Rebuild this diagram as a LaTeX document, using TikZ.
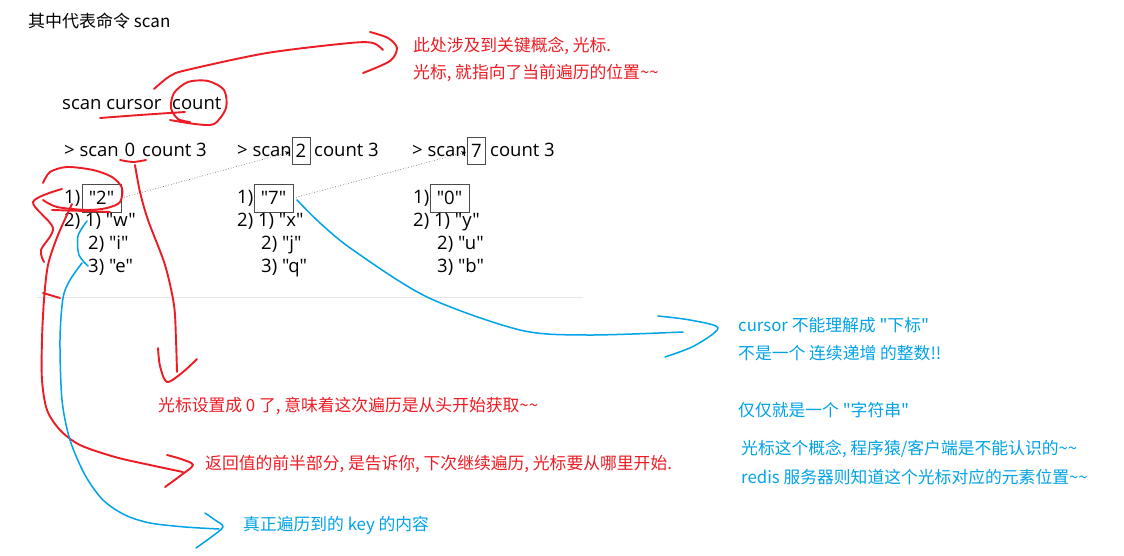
\documentclass[tikz,border=0pt]{standalone}
\usepackage{fontspec}
\setmainfont{Open Sans}
\newfontfamily\cjk{Noto Sans CJK SC}
\newfontfamily\term{Open Sans}
\usetikzlibrary{arrows.meta}
\definecolor{pred}{RGB}{237,28,36}
\definecolor{pblue}{RGB}{0,162,232}
\tikzset{
  term/.style={font=\term\fontsize{18.5}{22}\selectfont, inner sep=0pt, anchor=base west, text=black},
  keybox/.style={draw=black!70, line width=0.9pt, inner sep=0pt, minimum width=18pt, minimum height=27pt, font=\term\fontsize{18.5}{22}\selectfont},
  valbox/.style={keybox, minimum width=39pt, minimum height=28pt},
  note/.style={font=\cjk\fontsize{16.8}{19}\selectfont, inner sep=0pt, anchor=west},
  rednote/.style={note, text=pred},
  bluenote/.style={note, text=pblue},
  redpen/.style={draw=pred, line width=1.9pt, line cap=round, line join=round},
  bluepen/.style={draw=pblue, line width=1.5pt, line cap=round, line join=round},
  hint/.style={draw=black!55, dotted, line width=0.7pt, -{Stealth[length=5pt,width=4pt,black]}},
}
\begin{document}
\begin{tikzpicture}[x=1pt,y=-1pt]
\useasboundingbox[fill=white] (0,0) rectangle (1124,556);

% title
\node[note, text=black, font=\cjk\fontsize{17}{19}\selectfont] (title) at (28,21) {其中代表命令 scan};

% command syntax
\node[term] (cmdA) at (62,109.5) {scan cursor};
\node[term] (cmdB) at (172,109.5) {count};

% scan commands
\node[term] (s1a) at (64,156.5) {> scan};
\node[term, anchor=base] (s1z) at (130,156.5) {0};
\node[term] (s1b) at (142,156.5) {count 3};
\node[term] (s2a) at (237,156.5) {> scan};
\node[keybox] (s2k) at (301,150.5) {2};
\node[term] (s2b) at (314,156.5) {count 3};
\node[term] (s3a) at (412,156.5) {> scan};
\node[keybox] (s3k) at (476.5,150.5) {7};
\node[term] (s3b) at (490,156.5) {count 3};

% results column 1
\node[term] (p1) at (64,203.5) {1)};
\node[valbox] (p1k) at (101.5,198) {"2"};
\node[term] (p2) at (64,226.5) {2) 1) "w"};
\node[term] (p3) at (88,249.5) {2) "i"};
\node[term] (p4) at (88,272.5) {3) "e"};
% results column 2
\node[term] (q1) at (237,203.5) {1)};
\node[valbox] (q1k) at (273.5,198) {"7"};
\node[term] (q2) at (237,226.5) {2) 1) "x"};
\node[term] (q3) at (261,249.5) {2) "j"};
\node[term] (q4) at (261,272.5) {3) "q"};
% results column 3
\node[term] (u1) at (413,203.5) {1)};
\node[valbox] (u1k) at (449.5,198) {"0"};
\node[term] (u2) at (413,226.5) {2) 1) "y"};
\node[term] (u3) at (437,249.5) {2) "u"};
\node[term] (u4) at (437,272.5) {3) "b"};

\draw[black!10, line width=0.8pt] (37,297) -- (583,297);

% dotted hints
\coordinate (d1) at (290,152);
\coordinate (d2) at (466,152);
\draw[hint] (p1k.east) -- (d1);
\draw[hint] (q1k.east) -- (d2);

% notes
\node[rednote] (r1) at (413,46) {此处涉及到关键概念, 光标.};
\node[rednote] (r2) at (413,73) {光标, 就指向了当前遍历的位置\textasciitilde\textasciitilde};
\node[rednote] (r3) at (158,406) {光标设置成 0 了, 意味着这次遍历是从头开始获取\textasciitilde\textasciitilde};
\node[rednote] (r4) at (205,464) {返回值的前半部分, 是告诉你, 下次继续遍历, 光标要从哪里开始.};
\node[bluenote] (b1) at (243,525) {真正遍历到的 key 的内容};
\node[bluenote] (b2) at (738,325) {cursor 不能理解成 "下标"};
\node[bluenote] (b3) at (738,353) {不是一个 连续递增 的整数!!};
\node[bluenote] (b4) at (738,410) {仅仅就是一个 "字符串"};
\node[bluenote] (b5) at (741,449) {光标这个概念, 程序猿/客户端是不能认识的\textasciitilde\textasciitilde};
\node[bluenote] (b6) at (741,477) {redis 服务器则知道这个光标对应的元素位置\textasciitilde\textasciitilde};

% red pen: underline + circle around count, arrow to r1
\draw[redpen] plot[smooth] coordinates {(100,118) (140,115) (185,112)};
\draw[redpen] plot[smooth] coordinates {(170,120) (195,124) (214,124) (226,108) (224,90) (208,81) (188,82) (174,93) (171,108) (178,119) (190,122)};
\draw[redpen] plot[smooth] coordinates {(154,89) (170,76) (187,70) (267,53) (350,43) (373,43) (383,50)};
\draw[redpen] plot[smooth] coordinates {(370,32) (388,38) (397,48) (390,61) (363,73)};

% red pen: underline 0 and arrow to r3
\draw[redpen] plot[smooth] coordinates {(120,160) (133,162) (146,160)};
\draw[redpen] plot[smooth] coordinates {(135,165) (140,192) (148,220) (165,265) (174,305) (176,340) (177,372)};
\draw[redpen] plot[smooth] coordinates {(158,348) (160,366) (167,382) (183,372) (197,359)};

% red pen: scribble round 1) and arrow to r4
\draw[redpen] plot[smooth] coordinates {(43,183) (50,172) (67,167) (93,170) (112,177) (122,188) (120,202) (107,208) (87,210) (57,207) (43,200)};
\draw[redpen] plot[smooth] coordinates {(62,189) (33,202) (53,228) (41,250) (44,262)};
\draw[redpen] plot[smooth] coordinates {(52,210) (85,211) (110,212)};
\draw[redpen] plot[smooth] coordinates {(43,293) (60,298)};
\draw[redpen] plot[smooth] coordinates {(72,204) (58,235) (48,265) (44,300) (42,340) (42,380) (47,410) (60,430) (80,445) (115,457) (150,465) (183,472)};
\draw[redpen] plot[smooth] coordinates {(167,455) (181,459) (193,465) (180,476) (165,487)};

% blue pen: bracket and arrow to b1
\draw[bluepen] plot[smooth] coordinates {(87,221) (78,236) (79,255) (88,266)};
\draw[bluepen] plot[smooth] coordinates {(82,263) (70,280) (63,298) (60,340) (62,400) (70,440) (85,475) (103,500) (125,515) (150,523) (185,527) (219,529)};
\draw[bluepen] plot[smooth] coordinates {(205,513) (215,520) (223,527) (210,538) (196,548)};

% blue pen: from "7" to b2
\draw[bluepen] plot[smooth] coordinates {(297,200) (320,223) (353,250) (427,297) (520,330) (587,335) (683,332)};
\draw[bluepen] plot[smooth] coordinates {(658,316) (690,320) (718,328) (694,346) (665,357)};
\end{tikzpicture}
\end{document}
